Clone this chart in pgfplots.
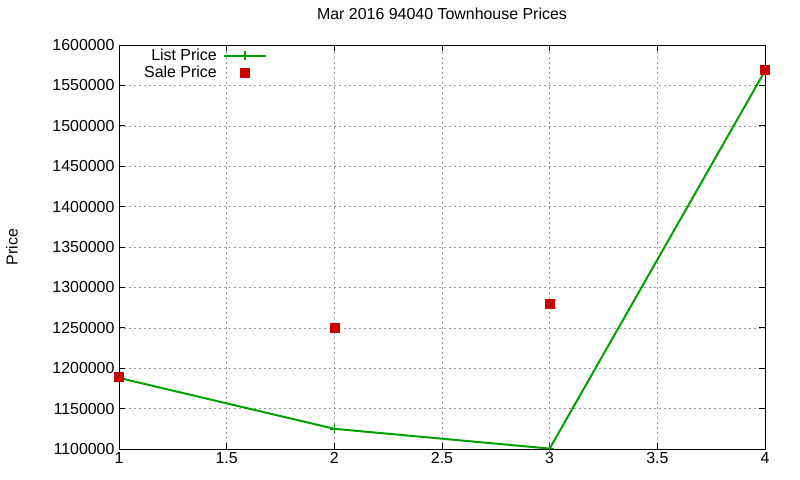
\documentclass[border=0pt]{standalone}
\usepackage{pgfplots}
\pgfplotsset{compat=1.18}
\usepackage{fontspec}
\setmainfont{Liberation Sans}
\definecolor{lgreen}{RGB}{0,160,0}
\definecolor{sred}{RGB}{204,0,0}
\begin{document}
\begin{tikzpicture}
\useasboundingbox (-119bp,-31bp) rectangle (681bp,449bp);
\begin{axis}[
  at={(0,0)}, anchor=south west,
  scale only axis, width=646bp, height=404bp,
  xmin=1, xmax=4, ymin=1100000, ymax=1600000,
  xtick={1,1.5,2,2.5,3,3.5,4},
  ytick={1100000,1150000,1200000,1250000,1300000,1350000,1400000,1450000,1500000,1550000,1600000},
  scaled y ticks=false, scaled x ticks=false,
  /pgf/number format/assume math mode=true,
  yticklabel style={/pgf/number format/fixed, /pgf/number format/set thousands separator={}, font=\fontsize{16}{18}\selectfont, xshift=-1bp},
  xticklabel style={/pgf/number format/fixed, font=\fontsize{16}{18}\selectfont},
  tick align=inside, major tick length=6bp,
  tick style={black, line width=0.8pt},
  axis line style={black, line width=0.8pt},
  grid=major,
  major grid style={gray!80, line width=0.6pt, dash pattern=on 2bp off 3bp},
  title={Mar 2016 94040 Townhouse Prices},
  title style={at={(axis description cs:0.5,1.062)}, anchor=center, font=\fontsize{16}{18}\selectfont},
  ylabel={Price},
  every axis y label/.style={at={(axis description cs:-0.1656,0.5)}, rotate=90, anchor=center, font=\fontsize{16}{18}\selectfont},
  legend style={at={(axis description cs:0.2291,0.995)}, anchor=north east, draw=none, fill=none, font=\fontsize{16}{18}\selectfont, row sep=0bp, inner sep=0pt},
  legend cell align=right,
  legend plot pos=right,
  legend image code/.code={\path[draw=none,fill=none] (0bp,-1bp) rectangle (47bp,1bp); \draw[#1] (5bp,0bp) -- (47bp,0bp); \draw[#1, only marks] plot coordinates {(26bp,0bp)};},
]
\addplot[lgreen, line width=2bp, mark=+, mark size=4.5bp, mark options={line width=1.5bp}] coordinates {
 (1,1188000) (2,1125000) (3,1100500) (4,1568000)
};
\addlegendentry{List Price}
\addplot[only marks, mark=square*, sred, mark size=4.5bp, legend image code/.code={\path[draw=none,fill=none] (0bp,-1bp) rectangle (47bp,1bp); \draw[only marks, mark=square*, sred, mark size=4.5bp] plot coordinates {(26bp,0bp)};}] coordinates {
 (1,1190000) (2,1250000) (3,1280000) (4,1570000)
};
\addlegendentry{Sale Price}
\end{axis}
\end{tikzpicture}
\end{document}
